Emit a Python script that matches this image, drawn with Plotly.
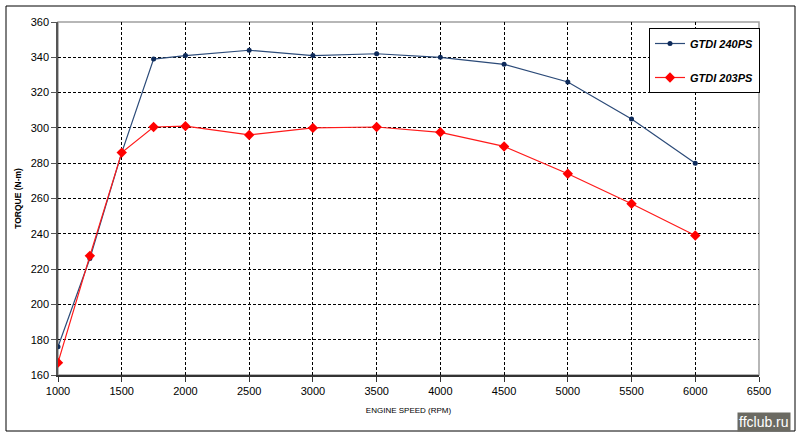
import plotly.graph_objects as go

rpm = [1000, 1250, 1500, 1750, 2000, 2500, 3000, 3500, 4000, 4500, 5000, 5500, 6000]
torque_240 = [176, 226, 286, 339, 341, 344, 341, 342, 340, 336, 326, 305, 280]
torque_203 = [167, 227.5, 286, 300.5, 301, 296, 300, 300.5, 297.5, 289.5, 274, 257, 239]
name_240 = "GTDI 240PS"
name_203 = "GTDI 203PS"
x_title = "ENGINE SPEED (RPM)"
y_title = "TORQUE (N-m)"
watermark = "ffclub.ru"

W, H = 800, 438
L, R, T, B = 58, 759, 22, 375
pw, ph = R - L, B - T


def px(x):
    return (x - L) / pw


def py(y):
    return (B - y) / ph


fig = go.Figure()
fig.add_trace(go.Scatter(
    x=rpm, y=torque_240, name=name_240, mode="lines+markers",
    line=dict(color="#2b4a78", width=1.2),
    marker=dict(symbol="circle", size=5, color="#0d2a5a"),
    legendgroup="a",
))
fig.add_trace(go.Scatter(
    x=rpm, y=torque_203, name=name_203, mode="lines+markers",
    line=dict(color="#ff1a1a", width=1.2),
    marker=dict(symbol="diamond", size=8, color="#ff0000"),
    legendgroup="b",
))

fig.update_layout(
    width=W, height=H,
    margin=dict(l=L, r=W - R, t=T, b=H - B),
    paper_bgcolor="white", plot_bgcolor="white",
    font=dict(family="Liberation Sans, Arial, sans-serif", color="black", size=11),
    showlegend=True,
    legend=dict(
        x=px(649), y=py(28), xanchor="left", yanchor="top",
        bgcolor="white", bordercolor="black", borderwidth=1,
        font=dict(size=11, style="italic", weight="bold"),
        tracegroupgap=15, itemwidth=30,
    ),
    xaxis=dict(
        range=[1000, 6500], dtick=500, tick0=1000,
        showgrid=True, gridcolor="black", gridwidth=1, griddash="3px,2px",
        showline=True, linecolor="#333", linewidth=1.5,
        ticks="outside", ticklen=5, tickcolor="#333",
        zeroline=False,
        title=dict(text=x_title, font=dict(size=8), standoff=11),
    ),
    yaxis=dict(
        range=[160, 360], dtick=20,
        showgrid=True, gridcolor="black", gridwidth=1, griddash="3px,2px",
        showline=True, linecolor="#555", linewidth=1.5,
        ticks="outside", ticklen=5, tickcolor="#555",
        zeroline=False,
        title=dict(text=y_title, font=dict(size=8.5, weight="bold"), standoff=8),
    ),
    shapes=[
        dict(type="rect", xref="paper", yref="paper", x0=0, x1=1, y0=0, y1=1,
             line=dict(color="#a0a0a0", width=1.5), layer="below"),
        dict(type="rect", xref="paper", yref="paper",
             x0=px(6), x1=px(795), y0=py(431), y1=py(6),
             line=dict(color="black", width=1), layer="below"),
    ],
    annotations=[
        dict(text=watermark, xref="paper", yref="paper", x=px(764), y=py(422),
             xanchor="center", yanchor="middle", showarrow=False,
             font=dict(size=14, color="white"), bgcolor="#6b6a62", borderpad=1),
    ],
)

fig.write_html("out.html")
